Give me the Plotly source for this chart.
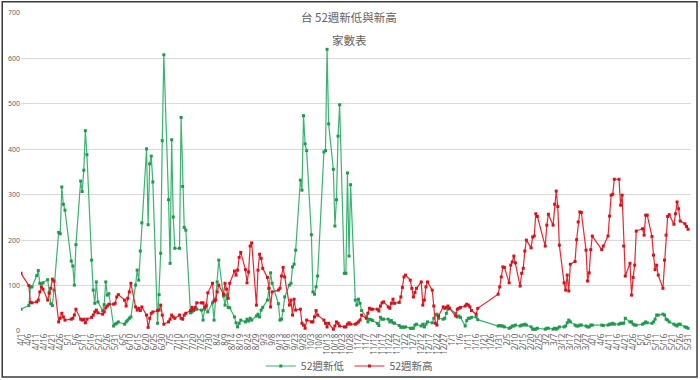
import pandas as pd
import plotly.graph_objects as go

# Taiwan market holidays (non-trading weekdays) in the period
market_holidays = [
    "2022-04-04", "2022-04-05", "2022-05-02", "2022-06-03", "2022-09-09", "2022-10-10",
    "2023-01-02", "2023-01-18", "2023-01-19", "2023-01-20", "2023-01-23", "2023-01-24",
    "2023-01-25", "2023-01-26", "2023-01-27", "2023-02-27", "2023-02-28",
    "2023-04-03", "2023-04-04", "2023-04-05", "2023-05-01",
]
dates = pd.bdate_range("2022-04-01", "2023-05-31", freq="C", holidays=market_holidays)

# 52週新低 (count of stocks at 52-week low), by month
new_low = (
    [48, 56, 97, 97, 122, 133, 105, 104, 106, 113, 86, 60, 56, 90, 217, 214, 317, 279, 266]            # 2022-04
    + [154, 143, 101, 190, 330, 307, 354, 441, 388, 156, 90, 61, 108, 64, 45, 58, 108, 79, 82, 11, 15]  # 05
    + [17, 20, 15, 20, 24, 28, 31, 101, 134, 112, 176, 238, 401, 234, 368, 385, 328, 17, 80, 171, 419]  # 06
    + [608, 289, 149, 421, 251, 182, 182, 470, 318, 228, 222, 40, 42, 46, 48, 48, 46, 24, 48, 57, 42]  # 07
    + [62, 24, 70, 108, 156, 77, 57, 79, 52, 51, 31, 18, 9, 17, 24, 20, 26, 22, 28, 24, 33, 37, 31]    # 08
    + [46, 52, 68, 94, 128, 105, 60, 24, 26, 45, 75, 101, 105, 141, 147, 178, 332, 310, 474, 412, 397] # 09
    + [212, 86, 81, 97, 121, 394, 397, 620, 456, 356, 231, 289, 429, 498, 127, 127, 348, 165, 322, 68] # 10
    + [57, 70, 61, 45, 31, 20, 26, 25, 23, 17, 12, 30, 26, 26, 26, 20, 23, 18, 17, 12, 8, 9]           # 11
    + [8, 9, 6, 6, 6, 13, 15, 11, 15, 9, 15, 20, 18, 28, 35, 37, 28, 26, 28, 39, 48, 50]               # 12
    + [39, 31, 33, 30, 11, 23, 28, 28, 30, 31, 25, 11, 12]                                             # 2023-01
    + [11, 11, 9, 6, 8, 11, 11, 13, 11, 13, 13, 15, 13, 9, 4, 4, 4, 6]                                 # 02
    + [4, 6, 6, 4, 6, 4, 6, 9, 9, 11, 18, 24, 20, 13, 11, 11, 13, 13, 11, 9, 9, 13, 13]                # 03
    + [13, 12, 13, 15, 15, 17, 15, 15, 17, 17, 17, 28, 20, 20, 15, 13, 13]                             # 04
    + [15, 17, 20, 18, 17, 20, 26, 35, 35, 37, 35, 26, 24, 20, 15, 13, 11, 15, 15, 9, 8, 6]            # 05
)

# 52週新高 (count of stocks at 52-week high), by month
new_high = (
    [127, 100, 63, 62, 64, 68, 86, 97, 92, 68, 83, 94, 114, 110, 20, 28, 39, 31, 24]                    # 2022-04
    + [26, 28, 35, 48, 26, 24, 26, 18, 26, 30, 35, 42, 46, 40, 37, 42, 51, 55, 59, 59, 61]             # 05
    + [75, 80, 68, 55, 72, 86, 105, 53, 46, 50, 45, 53, 35, 8, 28, 39, 42, 45, 46, 57, 35]             # 06
    + [15, 20, 26, 35, 31, 28, 35, 28, 26, 35, 39, 45, 52, 46, 52, 62, 62, 62, 52, 55, 84]             # 07
    + [105, 66, 68, 86, 101, 81, 105, 92, 72, 105, 132, 123, 134, 162, 173, 135, 106, 130, 187, 194, 57, 134, 169]  # 08
    + [160, 138, 118, 94, 53, 86, 90, 94, 121, 140, 119, 57, 68, 35, 70, 46, 48, 17, 13, 6, 24]        # 09
    + [20, 20, 31, 45, 35, 24, 17, 9, 17, 4, 11, 20, 17, 11, 9, 9, 15, 18, 15, 15]                     # 10
    + [17, 20, 24, 35, 28, 39, 50, 48, 48, 48, 44, 55, 62, 64, 53, 50, 61, 70, 61, 63, 75, 96]         # 11
    + [119, 123, 112, 94, 75, 85, 94, 108, 57, 68, 97, 108, 90, 55, 17, 13, 33, 53, 50, 52, 55, 50]    # 12
    + [33, 48, 50, 52, 55, 59, 57, 53, 45, 37, 50, 81, 97]                                             # 2023-01
    + [119, 141, 140, 106, 145, 152, 165, 150, 99, 127, 138, 176, 200, 183, 207, 209, 258, 252]        # 02
    + [187, 233, 257, 233, 279, 308, 274, 189, 106, 90, 123, 88, 147, 153, 201, 240, 262, 261, 178, 110, 128, 179, 209]  # 03
    + [179, 187, 209, 253, 299, 301, 334, 334, 277, 299, 187, 121, 149, 79, 118, 145, 220]             # 04
    + [225, 211, 255, 255, 208, 167, 135, 145, 123, 94, 156, 211, 252, 256, 235, 258, 284, 269, 242, 236, 230, 224]  # 05
)

assert len(dates) == len(new_low) == len(new_high), (len(dates), len(new_low), len(new_high))

title_text = "台 52週新低與新高"
subtitle_text = "家數表"
series_names = ["52週新低", "52週新高"]

FONT = "Noto Sans CJK TC, Noto Sans, sans-serif"
GRAY = "#5f5f5f"

fig = go.Figure()
fig.add_trace(go.Scatter(
    x=dates, y=new_low, name=series_names[0], mode="lines+markers",
    line=dict(color="#3cb371", width=1.2),
    marker=dict(symbol="square", size=3, color="#1f9a4c"),
))
fig.add_trace(go.Scatter(
    x=dates, y=new_high, name=series_names[1], mode="lines+markers",
    line=dict(color="#e8262e", width=1.2),
    marker=dict(symbol="square", size=3, color="#d3131c"),
))

fig.update_layout(
    width=700, height=380,
    margin=dict(l=21, r=9, t=13, b=49, autoexpand=False),
    paper_bgcolor="white", plot_bgcolor="white",
    font=dict(family=FONT, color=GRAY),
    showlegend=True,
    legend=dict(orientation="h", x=0.49, xanchor="center", y=-0.11, yanchor="middle",
                font=dict(size=10.5, color=GRAY), itemwidth=30, tracegroupgap=0,
                bgcolor="rgba(0,0,0,0)"),
    annotations=[
        dict(text=title_text, x=0.49, y=0.987, xref="paper", yref="paper",
             showarrow=False, font=dict(size=11.5, color=GRAY, family=FONT), yanchor="middle"),
        dict(text=subtitle_text, x=0.49, y=0.915, xref="paper", yref="paper",
             showarrow=False, font=dict(size=11.5, color=GRAY, family=FONT), yanchor="middle"),
    ],
    shapes=[dict(type="rect", xref="paper", yref="paper",
                 x0=-0.028, x1=1.009, y0=-0.145, y1=1.035,
                 line=dict(color="#3a3a3a", width=1.5), fillcolor="rgba(0,0,0,0)")],
)
fig.update_xaxes(
    type="date", range=["2022-04-01", "2023-06-01 21:00"], automargin=False,
    tick0="2022-04-01", dtick=5 * 86400000, tickformat="%-m/%-d", tickangle=-90,
    tickfont=dict(size=8, color=GRAY, family="Noto Sans, sans-serif"),
    showgrid=False, zeroline=False, showline=False, ticks="",
)
fig.update_yaxes(
    range=[0, 700], dtick=100, showgrid=True, gridcolor="#d9d9d9", gridwidth=1,
    zeroline=False, showline=False, ticks="", automargin=False,
    tickfont=dict(size=7, color=GRAY, family="Noto Sans, sans-serif"),
)

fig.write_html("out.html", config={"displayModeBar": False},
               post_script="document.body.style.margin='0';")
